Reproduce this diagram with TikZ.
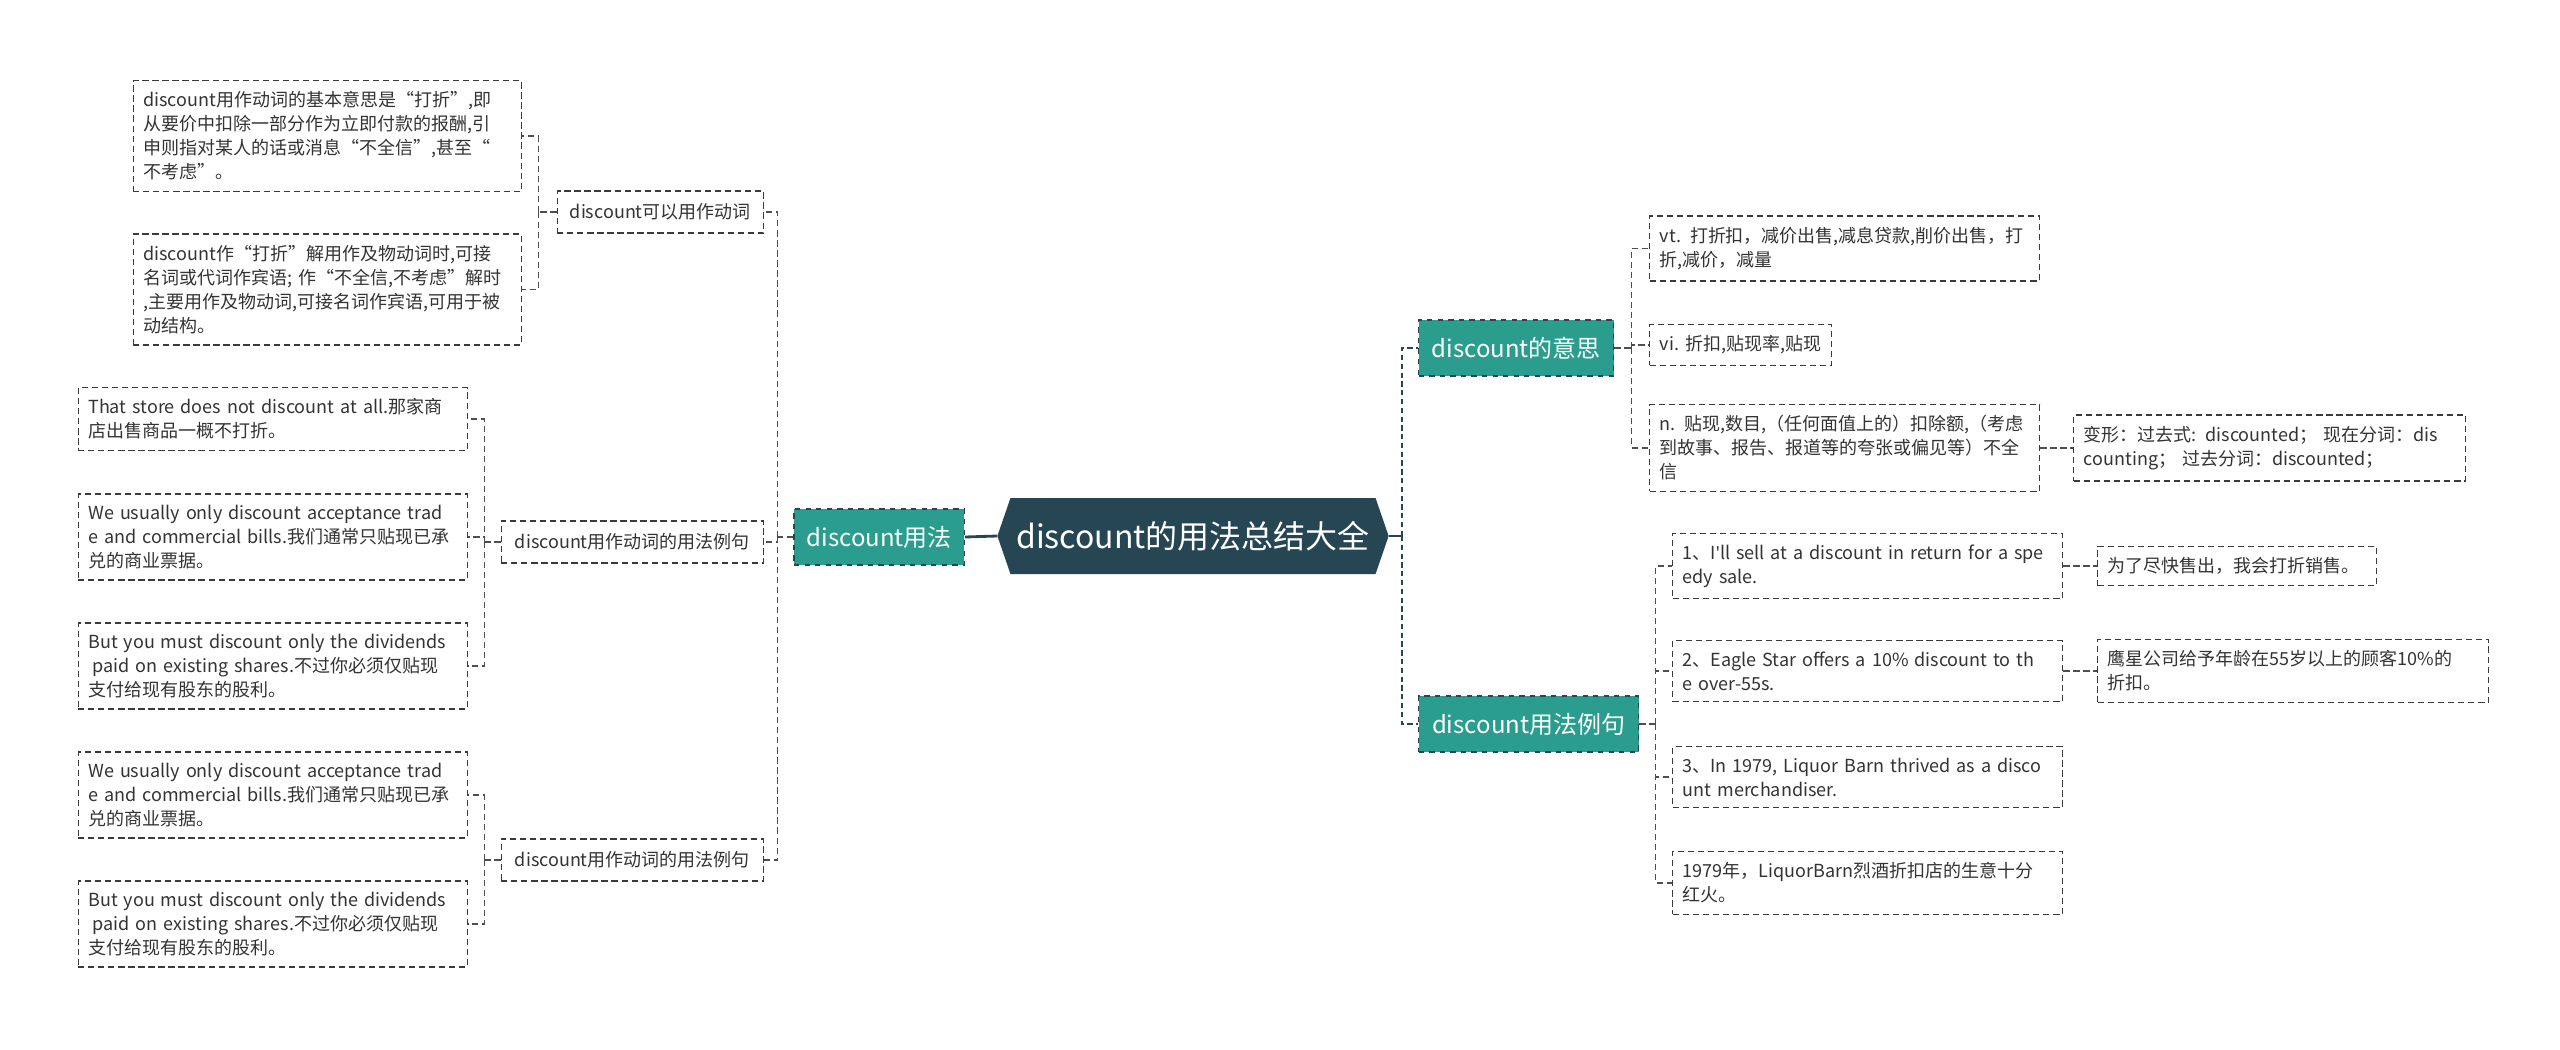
\documentclass[tikz,border=0pt]{standalone}
\usepackage{fontspec}
\setmainfont{Noto Sans CJK SC}
\newfontfamily\latinfont{Noto Sans}
\usetikzlibrary{positioning,shapes.symbols}

\definecolor{rootcol}{HTML}{264653}
\definecolor{tealcol}{HTML}{2A9D8F}
\definecolor{edgecol}{HTML}{3A3A3A}
\definecolor{textcol}{HTML}{333333}

\begin{document}
\begin{tikzpicture}[
                boxdash/.style={dash pattern=on 3.5pt off 2.2pt},
                root/.style={
                        signal, signal to=west and east, signal pointer angle=142,
                        fill=rootcol, text=white,
                        minimum width=7.78cm, minimum height=1.52cm,
                        font=\fontsize{18.2pt}{22pt}\selectfont
                    },
                topic/.style={
                        draw=rootcol, dashed, line width=0.8pt, fill=tealcol, text=white,
                        inner xsep=0.25cm, minimum height=1.12cm,
                        font=\fontsize{13.66pt}{16pt}\selectfont
                    },
                sub/.style={
                        draw=edgecol, boxdash, line width=0.8pt, fill=white, text=textcol,
                        inner xsep=0.2cm, minimum height=0.84cm,
                        font=\fontsize{10.24pt}{13.66pt}\selectfont
                    },
                leaf/.style={sub, text width=#1, align=left, inner ysep=0.22cm, minimum height=0pt},
                link/.style={draw=edgecol!90, boxdash, line width=0.8pt},
                trunk/.style={draw=rootcol, line width=1.5pt, dash pattern=on 3pt off 2pt},
                rootline/.style={draw=rootcol, line width=1.6pt}
            ]
            \useasboundingbox (0,0) rectangle (51.2,-20.98);

            % 中心主题
            \node[root] (root) at (23.86,-10.72) {discount的用法总结大全};

            % 左侧：discount用法
            \node[topic, anchor=east, minimum width=3.36cm] (uses) at (19.30,-10.74) {discount用法};
            \node[sub, anchor=east, minimum width=4.12cm] (verb) at (15.28,-4.24) {discount可以用作动词};
            \node[sub, anchor=east, minimum width=5.24cm] (usageA) at (15.28,-10.84) {discount用作动词的用法例句};
            \node[sub, anchor=east, minimum width=5.24cm] (usageB) at (15.28,-17.20) {discount用作动词的用法例句};

            \node[leaf=7.36cm, anchor=east] (verbA) at (10.44,-2.72) {discount用作动词的基本意思是“打折”,即\\从要价中扣除一部分作为立即付款的报酬,引\\申则指对某人的话或消息“不全信”,甚至“\\不考虑”。};
            \node[leaf=7.36cm, anchor=east] (verbB) at (10.44,-5.79) {discount作“打折”解用作及物动词时,可接\\名词或代词作宾语; 作“不全信,不考虑”解时\\,主要用作及物动词,可接名词作宾语,可用于被\\动结构。};

            \node[leaf=7.38cm, anchor=east] (usageA1) at (9.36,-8.38) {That store does not discount at all.那家商\\店出售商品一概不打折。};
            \node[leaf=7.38cm, anchor=east] (usageA2) at (9.36,-10.74) {We usually only discount acceptance trad\\e and commercial bills.我们通常只贴现已承\\兑的商业票据。};
            \node[leaf=7.38cm, anchor=east] (usageA3) at (9.36,-13.32) {But you must discount only the dividends\\\hspace*{0.25em}paid on existing shares.不过你必须仅贴现\\支付给现有股东的股利。};

            \node[leaf=7.38cm, anchor=east] (usageB1) at (9.36,-15.90) {We usually only discount acceptance trad\\e and commercial bills.我们通常只贴现已承\\兑的商业票据。};
            \node[leaf=7.38cm, anchor=east] (usageB2) at (9.36,-18.48) {But you must discount only the dividends\\\hspace*{0.25em}paid on existing shares.不过你必须仅贴现\\支付给现有股东的股利。};

            % 右侧：discount的意思
            \node[topic, anchor=west, minimum width=3.9cm] (meaning) at (28.36,-6.96) {discount的意思};
            \node[leaf=7.4cm, anchor=west] (vt) at (32.98,-4.97) {vt. 打折扣，减价出售,减息贷款,削价出售，打\\折,减价，减量};
            \node[leaf=3.24cm, anchor=west] (vi) at (32.98,-6.90) {vi.~折扣,贴现率,贴现};
            \node[leaf=7.4cm, anchor=west] (noun) at (32.98,-8.96) {n. 贴现,数目,（任何面值上的）扣除额,（考虑\\到故事、报告、报道等的夸张或偏见等）不全\\信};
            \node[leaf=7.44cm, anchor=west] (forms) at (41.46,-8.96) {变形：过去式: discounted；  现在分词：dis\\counting；  过去分词：discounted；};

            % 右侧：discount用法例句
            \node[topic, anchor=west, minimum width=4.4cm] (examples) at (28.36,-14.48) {discount用法例句};
            \node[leaf=7.4cm, anchor=west] (ex1) at (33.44,-11.32) {1、I{\latinfont'}ll sell at a discount in return for a spe\\edy sale.};
            \node[leaf=5.18cm, anchor=west] (zh1) at (41.94,-11.32) {为了尽快售出，我会打折销售。};
            \node[leaf=7.4cm, anchor=west] (ex2) at (33.44,-13.42) {2、Eagle Star offers a 10\% discount to th\\e over-55s.};
            \node[leaf=7.42cm, anchor=west] (zh2) at (41.94,-13.42) {鹰星公司给予年龄在55岁以上的顾客10\%的\\折扣。};
            \node[leaf=7.4cm, anchor=west] (ex3) at (33.44,-15.54) {3、In 1979, Liquor Barn thrived as a disco\\unt merchandiser.};
            \node[leaf=7.4cm, anchor=west] (ex4) at (33.44,-17.66) {1979年，LiquorBarn烈酒折扣店的生意十分\\红火。};

            % 连线
            \draw[rootline] (root.west) -- (uses.east);
            \draw[rootline] (root.east) -- ++(0.26,0) coordinate (rootR);
            \draw[trunk] (rootR) |- (meaning.west);
            \draw[trunk] (rootR) |- (examples.west);

            \draw[link] (uses.west) -- ++(-0.32,0) coordinate (usesL);
            \draw[link] (usesL) |- (verb.east);
            \draw[link] (usesL) |- (usageA.east);
            \draw[link] (usesL) |- (usageB.east);

            \draw[link] (verb.west) -- ++(-0.36,0) coordinate (verbL);
            \draw[link] (verbL) |- (verbA.east);
            \draw[link] (verbL) |- (verbB.east);

            \draw[link] (usageA.west) -- ++(-0.32,0) coordinate (usageAL);
            \draw[link] (usageAL) |- (usageA1.east);
            \draw[link] (usageAL) |- (usageA2.east);
            \draw[link] (usageAL) |- (usageA3.east);

            \draw[link] (usageB.west) -- ++(-0.32,0) coordinate (usageBL);
            \draw[link] (usageBL) |- (usageB1.east);
            \draw[link] (usageBL) |- (usageB2.east);

            \draw[link] (meaning.east) -- ++(0.34,0) coordinate (meaningR);
            \draw[link] (meaningR) |- (vt.west);
            \draw[link] (meaningR) |- (vi.west);
            \draw[link] (meaningR) |- (noun.west);
            \draw[link] (noun.east) -- (forms.west);

            \draw[link] (examples.east) -- ++(0.32,0) coordinate (examplesR);
            \draw[link] (examplesR) |- (ex1.west);
            \draw[link] (examplesR) |- (ex2.west);
            \draw[link] (examplesR) |- (ex3.west);
            \draw[link] (examplesR) |- (ex4.west);
            \draw[link] (ex1.east) -- (zh1.west);
            \draw[link] (ex2.east) -- (zh2.west);

        \end{tikzpicture}
\end{document}
